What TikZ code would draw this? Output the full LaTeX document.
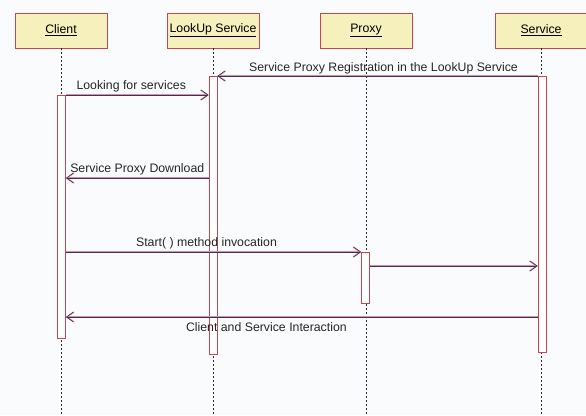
\documentclass[tikz,border=0pt]{standalone}
\usepackage{fontspec}
\setmainfont{Liberation Sans}
\usetikzlibrary{arrows.meta, positioning}
\definecolor{bgcol}{RGB}{250,251,253}
\definecolor{boxfill}{RGB}{246,240,188}
\definecolor{boxline}{RGB}{200,70,80}
\definecolor{msgline}{RGB}{60,50,95}
\definecolor{lifeline}{RGB}{40,40,60}

\begin{document}
\begin{tikzpicture}[x=1pt, y=-1pt,
    object/.style={draw=boxline, fill=boxfill, line width=0.8pt, minimum width=92pt, minimum height=35pt, inner sep=0pt, font=\fontsize{12.3}{14}\selectfont},
    actbar/.style={draw=boxline, fill=white, line width=0.8pt, minimum width=8pt, inner sep=0pt, anchor=north},
    life/.style={draw=lifeline, line width=0.8pt, dash pattern=on 2pt off 2pt},
    msg/.style={draw=msgline, line width=0.6pt, preaction={draw=boxline!60, line width=1.3pt}, -{Straight Barb[length=7pt, width=10pt]}},
    lbl/.style={font=\fontsize{12.3}{14}\selectfont, text=black!85, inner sep=3pt}]
    % background and page size
    \fill[bgcol] (0,0) rectangle (586,415);
    \useasboundingbox (0,0) rectangle (586,415);

    % Definir objetos
    \node (client) [object] at (61,30.5) {\underline{Client}};
    \node (lookup) [object] at (213,30.5) {\underline{LookUp Service}};
    \node (proxy) [object] at (366,30.5) {\underline{Proxy}};
    \node (service) [object] at (541,30.5) {\underline{Service}};

    % lineas de vida
    \draw[life] (client.south) -- (client.south |- 0,415);
    \draw[life] (lookup.south) -- (lookup.south |- 0,415);
    \draw[life] (proxy.south) -- (proxy.south |- 0,415);
    \draw[life] (service.south) -- (service.south |- 0,415);

    % barras de activacion
    \node (cbar) [actbar, minimum height=243pt] at (61.5,95) {};
    \node (lbar) [actbar, minimum height=278pt] at (213,76) {};
    \node (pbar) [actbar, minimum height=51pt] at (365.5,252) {};
    \node (sbar) [actbar, minimum height=276pt] at (542,76) {};

    % mensajes
    \draw[msg] (sbar.west |- 0,76) -- (lbar.east |- 0,76) node[lbl, midway, above, inner sep=1.5pt, xshift=6pt] {Service Proxy Registration in the LookUp Service};
    \draw[msg] (cbar.east |- 0,95) -- (lbar.west |- 0,95) node[lbl, midway, above, xshift=-6pt] {Looking for services};
    \draw[msg] (lbar.west |- 0,178) -- (cbar.east |- 0,178) node[lbl, midway, above] {Service Proxy Download};
    \draw[msg] (cbar.east |- 0,252) -- (pbar.west |- 0,252) node[lbl, midway, above, xshift=-7pt] {Start( ) method invocation};
    \draw[msg] (pbar.east |- 0,266) -- (sbar.west |- 0,266);
    \draw[msg] (sbar.west |- 0,317) -- (cbar.east |- 0,317) node[lbl, pos=0.575, below, inner sep=5pt] {Client and Service Interaction};
\end{tikzpicture}
\end{document}
